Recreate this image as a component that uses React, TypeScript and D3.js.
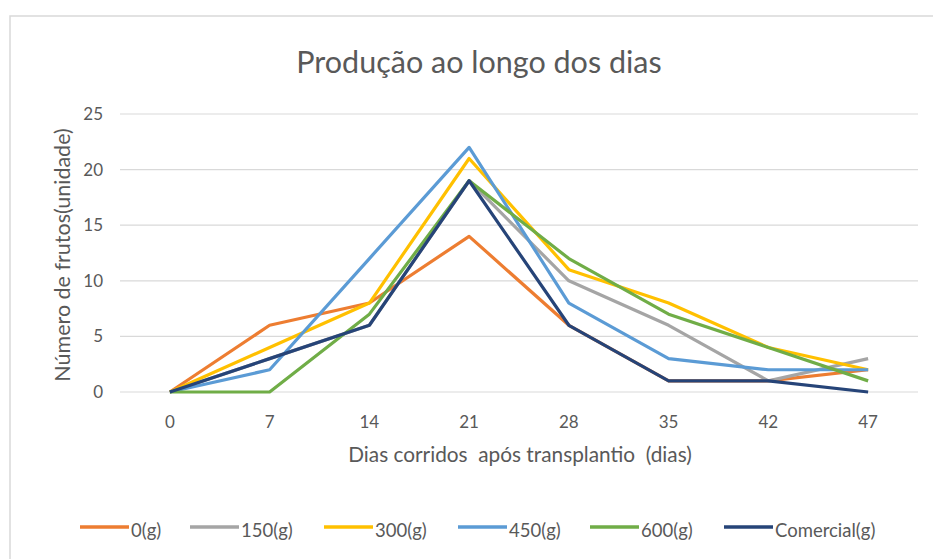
import * as d3 from 'd3';

const days = ['0', '7', '14', '21', '28', '35', '42', '47'];
const yTicks = [0, 5, 10, 15, 20, 25];

const seriesNames = ['0(g)', '150(g)', '300(g)', '450(g)', '600(g)', 'Comercial(g)'];
const seriesColors = ['#ED7D31', '#A5A5A5', '#FFC000', '#5B9BD5', '#70AD47', '#264478'];

const v0 = [0, 6, 8, 14, 6, 1, 1, 2];
const v150 = [0, 3, 6, 19, 10, 6, 1, 3];
const v300 = [0, 4, 8, 21, 11, 8, 4, 2];
const v450 = [0, 2, 12, 22, 8, 3, 2, 2];
const v600 = [0, 0, 7, 19, 12, 7, 4, 1];
const vCom = [0, 3, 6, 19, 6, 1, 1, 0];
const seriesValues = [v0, v150, v300, v450, v600, vCom];

const legendX = [80, 190, 324, 458, 590, 724];

export default function App() {
  const width = 933;
  const height = 559;
  const plot = { left: 120, right: 918, top: 114, bottom: 392 };

  const x = d3.scalePoint<string>()
    .domain(days)
    .range([plot.left, plot.right])
    .padding(0.5);

  const y = d3.scaleLinear()
    .domain([0, 25])
    .range([plot.bottom, plot.top]);

  const line = d3.line<number>()
    .x((_, i) => x(days[i])!)
    .y((d) => y(d));

  const font = 'Lato, Carlito, Calibri, sans-serif';
  const textColor = '#595959';

  return (
    <svg
      width={width}
      height={height}
      style={{ position: 'absolute', left: 0, top: 0, background: '#fff' }}
      fontFamily={font}
    >
      <rect x={10} y={16} width={940} height={560} fill="#fff" stroke="#d9d9d9" strokeWidth={1.5} />

      <text x={479} y={62} dy="0.35em" textAnchor="middle" fontSize={30.5} fill={textColor}>
        Produção ao longo dos dias
      </text>

      {/* gridlines */}
      {yTicks.map((t) => (
        <line key={t} x1={plot.left} x2={plot.right} y1={y(t)} y2={y(t)} stroke="#d9d9d9" strokeWidth={1.2} />
      ))}

      {/* y tick labels */}
      {yTicks.map((t) => (
        <text key={t} x={103} y={y(t)} dy="0.35em" textAnchor="end" fontSize={17} fill={textColor}>
          {t}
        </text>
      ))}

      {/* x tick labels */}
      {days.map((d) => (
        <text key={d} x={x(d)} y={422} dy="0.35em" textAnchor="middle" fontSize={17} fill={textColor}>
          {d}
        </text>
      ))}

      <text x={520} y={455} dy="0.35em" textAnchor="middle" fontSize={20.8} fill={textColor} style={{ whiteSpace: 'pre' }}>
        {'Dias corridos  após transplantio  (dias)'}
      </text>

      <text
        transform={`translate(62,255) rotate(-90)`}
        textAnchor="middle"
        dy="0.35em"
        fontSize={21.5}
        fill={textColor}
      >
        Número de frutos(unidade)
      </text>

      {/* series */}
      {seriesValues.map((vals, i) => (
        <path
          key={seriesNames[i]}
          d={line(vals) ?? ''}
          fill="none"
          stroke={seriesColors[i]}
          strokeWidth={3.2}
          strokeLinejoin="round"
        />
      ))}

      {/* legend */}
      {seriesNames.map((name, i) => (
        <g key={name} transform={`translate(${legendX[i]},527)`}>
          <line x1={0} x2={49} y1={0} y2={0} stroke={seriesColors[i]} strokeWidth={3.5} />
          <text x={51} y={4} dy="0.35em" fontSize={18.5} fill={textColor}>
            {name}
          </text>
        </g>
      ))}
    </svg>
  );
}
